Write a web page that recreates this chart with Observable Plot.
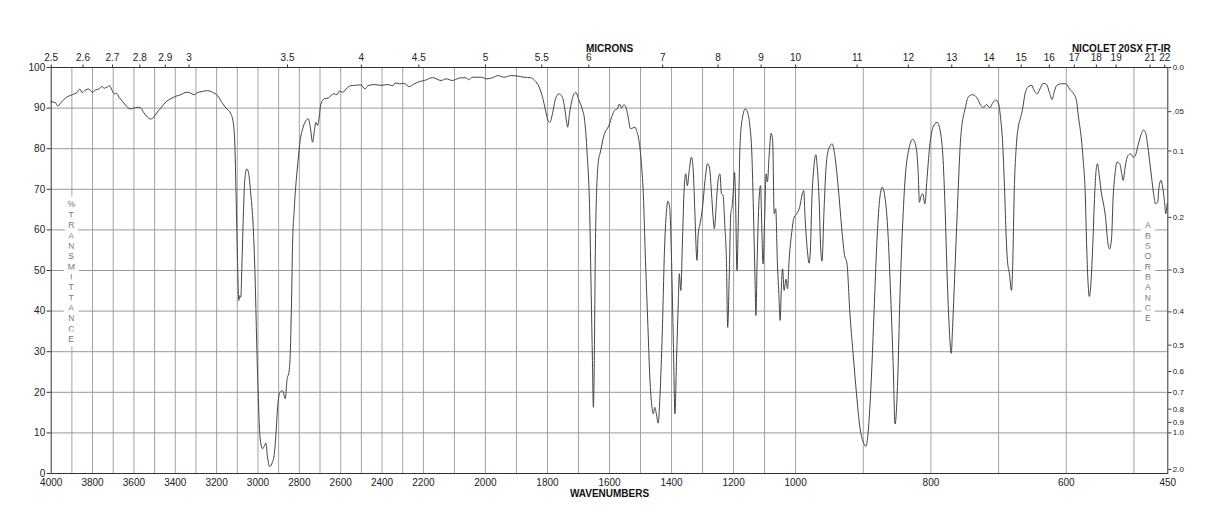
<!DOCTYPE html>
<html><head><meta charset="utf-8">
<script src="https://cdn.jsdelivr.net/npm/d3@7"></script>
<script src="https://cdn.jsdelivr.net/npm/@observablehq/plot@0.6"></script>
<style>body{margin:0;background:#fff}</style>
</head><body><div id="chart"></div>
<script>
const wavenumber = [4000,3979,3968,3955,3931,3898,3874,3861,3850,3834,3818,3801,3785,3769,3756,3742,3729,3718,3705,3693,3685,3672,3656,3635,3616,3600,3583,3570,3551,3535,3519,3503,3487,3467,3446,3422,3398,3374,3346,3330,3309,3293,3269,3244,3220,3196,3172,3151,3131,3120,3112,3106,3099,3093,3088,3083,3078,3070,3064,3054,3046,3035,3023,3014,3006,2999,2990,2978,2970,2962,2954,2943,2930,2922,2913,2905,2894,2881,2868,2860,2849,2844,2837,2833,2825,2815,2806,2796,2784,2768,2757,2747,2736,2728,2720,2712,2704,2696,2679,2660,2647,2631,2618,2607,2590,2574,2553,2534,2502,2482,2469,2437,2405,2372,2348,2337,2316,2295,2268,2244,2215,2197,2170,2143,2127,2106,2084,2063,2055,2041,2015,1995,1977,1959,1940,1918,1897,1875,1854,1841,1827,1816,1806,1798,1792,1784,1774,1763,1752,1745,1738,1735,1729,1720,1709,1699,1688,1680,1672,1664,1659,1655,1652,1649,1646,1641,1634,1631,1618,1602,1591,1584,1575,1568,1561,1554,1549,1541,1532,1525,1518,1513,1505,1498,1491,1484,1476,1470,1463,1459,1454,1449,1443,1437,1430,1422,1416,1412,1406,1400,1394,1389,1384,1378,1375,1370,1365,1360,1354,1349,1343,1336,1330,1325,1318,1314,1308,1300,1292,1284,1278,1271,1266,1262,1255,1250,1244,1239,1234,1228,1223,1219,1214,1209,1205,1200,1197,1194,1189,1184,1179,1171,1162,1155,1147,1141,1136,1131,1128,1124,1118,1113,1109,1105,1100,1095,1091,1085,1079,1074,1069,1064,1059,1054,1050,1045,1042,1037,1031,1026,1021,1013,1005,998,994,990,988,986,983,980,978,976,973,970,968,965,963,961,958,955,951,946,942,937,932,928,924,920,915,910,905,900,896,893,888,884,880,876,872,868,864,860,856,853,849,846,842,838,833,827,822,819,817,815,812,809,806,802,797,791,786,782,779,776,773,770,768,764,760,756,749,745,738,732,726,722,718,713,708,704,700,697,694,691,689,687,684,681,679,677,674,671,668,665,661,656,651,648,643,639,634,629,625,621,618,614,607,601,595,589,585,582,578,575,572,570,568,566,564,561,558,556,554,551,548,545,542,539,536,533,531,528,525,521,518,516,513,509,505,501,498,494,489,486,483,480,477,474,471,468,465,463,460,458,455,453,451];
const transmittance = [91.6,91.3,90.5,91.2,92.5,93.3,93.9,94.7,93.8,94.5,94.7,93.9,94.5,94.7,95.3,94.9,95.2,95.5,94.3,93.5,93.7,92.7,91.7,90.4,89.8,90,90.2,90.1,88.8,87.8,87.3,87.8,89,90.2,91.5,92.3,92.9,93.3,93.9,93.8,93.3,93.8,94.1,94.3,93.9,93.1,91.2,89.8,88.6,86.5,81.2,68.9,52.5,42.6,43.8,43.4,50.8,64.8,72.2,75,74.2,68.9,60.7,48.4,31.9,19.6,8.9,6.1,6.7,7.5,4,1.7,2.8,4.4,9.8,16.3,20,20.4,18.4,22.9,25.4,29.5,44.3,55.7,64.8,72.2,77.1,82,84.9,86.9,87.4,85.3,81.6,84.1,86.5,85.7,87.8,91,92.3,92.5,93.1,93.5,93.3,94.2,93.9,94.7,95.5,95.6,95.7,94.7,95.5,95.8,95.6,95.8,95.5,96.2,96,96.1,95.3,96,96.6,96.8,97.5,96.8,97.2,96.8,97.4,97.5,97,97.6,97.6,97.2,97.5,98,97.6,98,97.9,97.6,97.5,96.8,95.2,92.7,89.4,86.9,86.5,88.6,92.3,93.5,92.7,90.2,86.5,85.3,88.6,92.3,93.9,92,89.8,86.9,78.7,64.8,44.3,27.8,16.3,27.8,52.5,70.5,77.9,78.7,83.3,85.7,88.2,89.4,89.8,91,90,90.8,90.6,88.2,84.9,85.1,85.3,84.5,82,77.1,68.9,52.5,36,23.7,16.3,14.7,16.3,14.7,12.4,19.6,34.4,56.6,64.8,67.1,65.6,52.5,31.9,14.7,27.8,42.6,49.2,45.1,56.6,68.9,73.8,70.9,74.6,77.9,74.6,64.8,52.5,59,61.5,65.6,72.2,76.3,75.5,68.9,63.1,60.3,67.2,72.2,73.8,68.9,68.5,60.7,52.5,36,48.4,64,65.6,70.5,74.2,68.9,50,64.8,81.2,87.8,89.8,89,85.3,78.7,64.8,48.4,38.9,52.5,67.2,70.9,60.7,51.6,62.3,73.8,71.8,78.7,83.8,82,64,65.2,52.5,44.3,37.7,47.5,50.4,45.1,47.9,45.5,52.5,59,63.1,64,65.6,68.9,69.7,63.1,55.7,51.8,55.7,67.2,75.5,78.5,75.5,66.4,55.7,52.3,64.8,75.5,80,81.2,78.3,70.5,60.7,54.1,51.6,40.1,29.5,19.6,11.4,7.7,6.7,9.8,23.7,40.1,56.6,67.2,70.5,68.1,60.7,45.9,27.8,12.2,23.7,42.6,60.7,73,79.6,82.3,80.4,74.6,66.8,68.1,68.9,66.4,72.2,80.4,85.3,86.5,84.1,77.1,64.8,48.4,36,29.6,36,52.5,68.9,82.8,90.2,92.7,93.3,92.5,90.6,90.2,90.9,90.1,91.5,92,91,87.4,81.2,68.9,59,52.5,49.2,45.1,52.5,68.9,80.4,85.3,87.4,89.4,93.5,95.3,95.6,94.5,93.5,94.7,96.1,95.8,93.9,92.1,93.9,95.6,96,96,94.7,93.5,91.9,87.8,82.8,77.1,68.9,56.6,47.5,43.6,45.9,55.7,68.9,74.6,76.3,73,68.9,66.4,63.1,57.4,55.3,58.2,67.2,73.8,76.7,76.3,73.8,72.2,75.5,78.3,78.7,77.9,78.3,80.8,83.7,84.6,84,81.2,77.1,73,68.9,66.4,66.8,70.5,72.2,70.9,67.2,64,66.4];

const wavenumberTicks = [4000,3800,3600,3400,3200,3000,2800,2600,2400,2200,2000,1800,1600,1400,1200,1000,800,600,450];
const gridWavenumbers = [3900,3800,3700,3600,3500,3400,3300,3200,3100,3000,2900,2800,2700,2600,2500,2400,2300,2200,2100,2000,1900,1800,1700,1600,1500,1400,1300,1200,1100,1000,900,800,700,600,500];
const micronTicks = [2.5,2.6,2.7,2.8,2.9,3,3.5,4,4.5,5,5.5,6,7,8,9,10,11,12,13,14,15,16,17,18,19,21,22];
const micronLabels = ["2.5","2.6","2.7","2.8","2.9","3","3.5","4","4.5","5","5.5","6","7","8","9","10","11","12","13","14","15","16","17","18","19","21","22"];
const percentTicks = [0,10,20,30,40,50,60,70,80,90,100];
const absorbanceTicks = [0,0.05,0.1,0.2,0.3,0.4,0.5,0.6,0.7,0.8,0.9,1.0,2.0];
const absorbanceLabels = ["0.0",".05","0.1","0.2","0.3","0.4","0.5","0.6","0.7","0.8","0.9","1.0","2.0"];

const spectrum = wavenumber.map((w, i) => ({w, t: transmittance[i]}));
const micronPos = micronTicks.map(m => 10000 / m);
const absPos = absorbanceTicks.map(a => 100 * Math.pow(10, -a));

const W = 1218, H = 528;
const mL = 50.7, mR = 50.7, mT = 67, mB = 55;
const x0 = mL, x3 = W - mR, seg = (x3 - x0) / 3;

const chart = Plot.plot({
  width: W, height: H,
  marginLeft: mL, marginRight: mR, marginTop: mT, marginBottom: mB,
  style: {fontFamily: "'Liberation Sans', Arial, Helvetica, sans-serif", fontSize: "10px", color: "#222", background: "#fff"},
  x: {type: "linear", domain: [4000, 2200, 1000, 450], range: [x0, x0 + seg, x0 + 2 * seg, x3]},
  y: {domain: [0, 100], range: [H - mB, mT]},
  marks: [
    Plot.ruleX(gridWavenumbers, {stroke: "#a3a3a3", strokeWidth: 1}),
    Plot.ruleY(percentTicks.slice(1, -1), {stroke: "#999", strokeWidth: 1}),
    Plot.text(["%\nT\nR\nA\nN\nS\nM\nI\nT\nT\nA\nN\nC\nE"], {frameAnchor: "left", dx: 20, dy: 1, lineHeight: 1.22, fontSize: 8.5, fill: "#777", stroke: "white", strokeWidth: 9, textAnchor: "middle"}),
    Plot.text(["A\nB\nS\nO\nR\nB\nA\nN\nC\nE"], {frameAnchor: "right", dx: -20, dy: 1, lineHeight: 1.22, fontSize: 8.5, fill: "#777", stroke: "white", strokeWidth: 9, textAnchor: "middle"}),
    Plot.line(spectrum, {x: "w", y: "t", stroke: "#444", strokeWidth: 1, curve: "monotone-x"}),
    Plot.frame({stroke: "#333"}),
    Plot.axisY(percentTicks, {anchor: "left", tickSize: 4, tickPadding: 2, fontSize: 10, label: null, stroke: "#333", tickFormat: d => String(d)}),
    Plot.axisY(absPos, {anchor: "right", tickSize: 3, tickPadding: 2, fontSize: 8, label: null, stroke: "#333",
      tickFormat: d => absorbanceLabels[absPos.indexOf(d)]}),
    Plot.axisX(wavenumberTicks, {anchor: "bottom", tickSize: 0, tickPadding: 5, fontSize: 10, label: null, tickFormat: d => String(d)}),
    Plot.axisX(micronPos, {anchor: "top", tickSize: 3.5, tickPadding: 3, fontSize: 10, label: null, stroke: "#333",
      tickFormat: d => micronLabels[micronPos.indexOf(d)]}),
    Plot.text(["MICRONS"], {frameAnchor: "top", dy: -23, fontWeight: "bold", fontSize: 10, fill: "#111"}),
    Plot.text(["NICOLET 20SX FT-IR"], {frameAnchor: "top-right", textAnchor: "end", dx: 3, dy: -23, fontWeight: "bold", fontSize: 10, fill: "#111"}),
    Plot.text(["WAVENUMBERS"], {frameAnchor: "bottom", dy: 23, fontWeight: "bold", fontSize: 10, fill: "#111"})
  ]
});
document.getElementById("chart").appendChild(chart);
</script>
</body></html>
